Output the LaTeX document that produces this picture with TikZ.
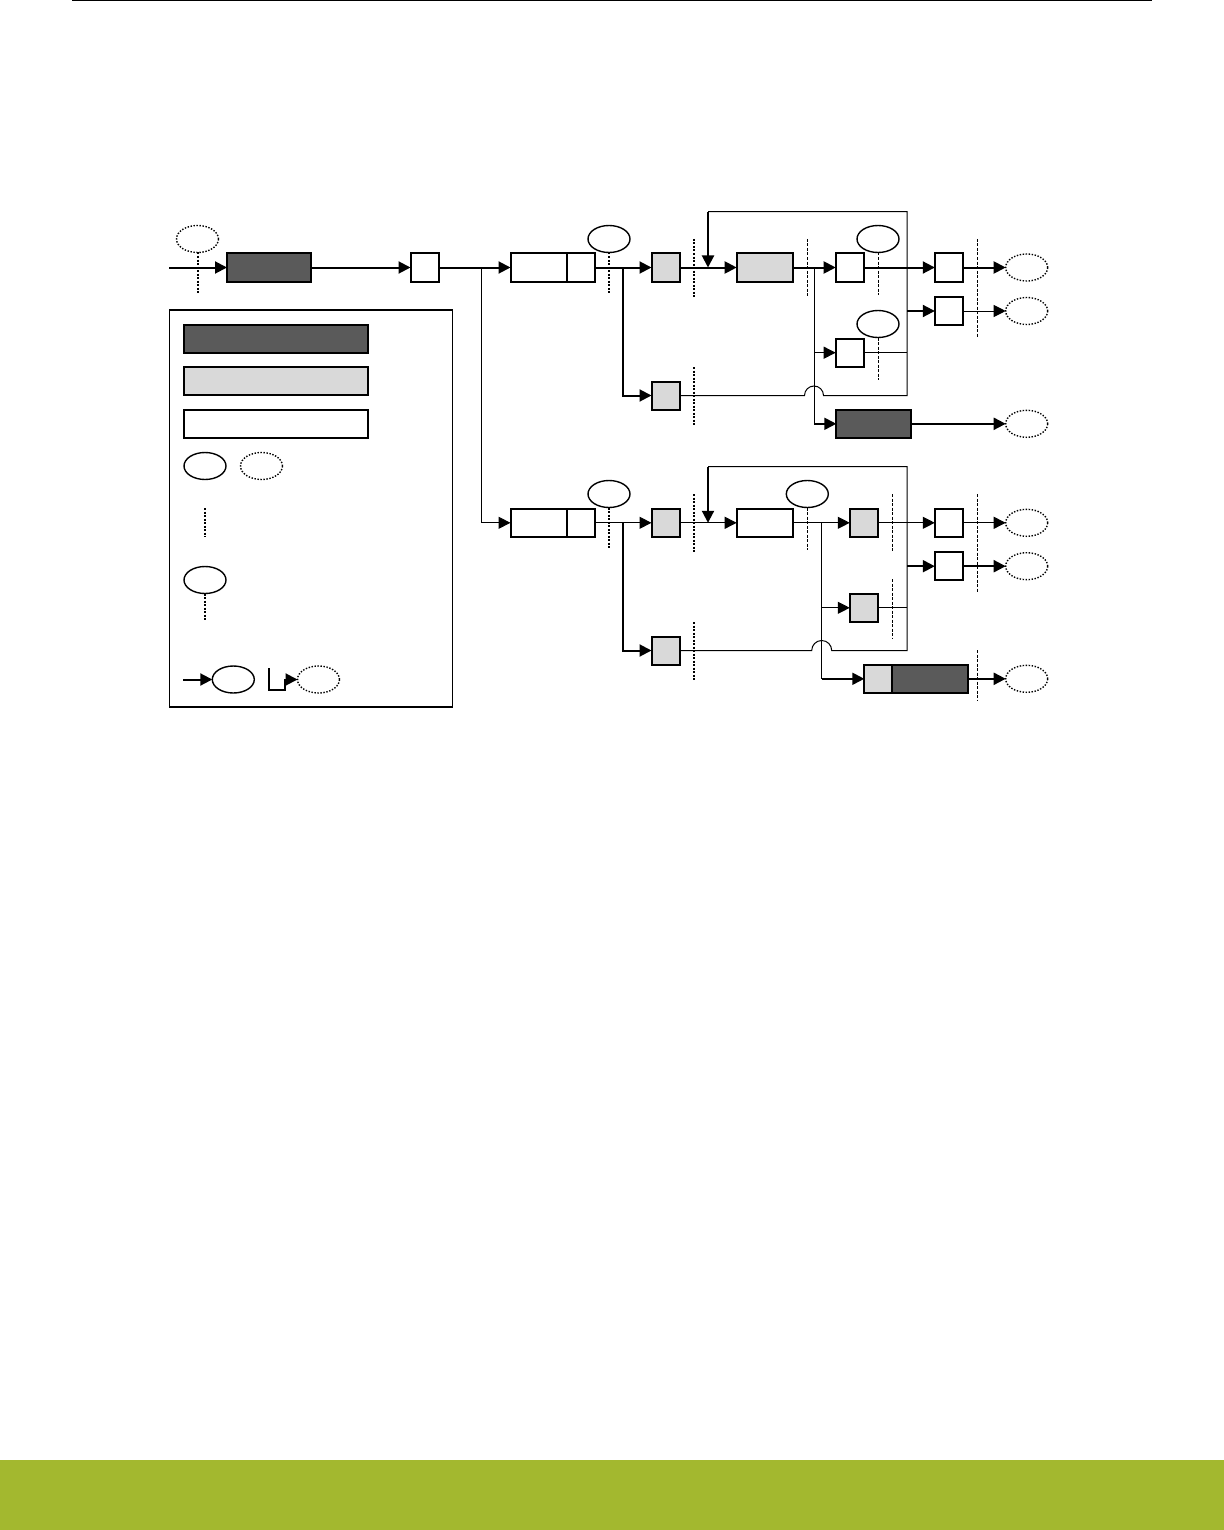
\documentclass[tikz,border=0pt]{standalone}
\usetikzlibrary{arrows.meta,shapes.geometric}
\definecolor{darkfill}{RGB}{90,90,90}
\definecolor{lightfill}{RGB}{217,217,217}
\definecolor{barcolor}{RGB}{163,184,47}
\begin{document}
\begin{tikzpicture}[x=0.5pt,y=-0.5pt,>={Triangle[length=6pt,width=6pt]},
  box/.style={draw,line width=1pt,minimum height=14pt,minimum width=14pt,inner sep=0pt,outer sep=0pt},
  darkbox/.style={box,fill=darkfill},
  lightbox/.style={box,fill=lightfill},
  whitebox/.style={box,fill=white},
  tag/.style={draw,ellipse,line width=0.7pt,minimum width=21pt,minimum height=13.5pt,inner sep=0pt,outer sep=0pt},
  ext/.style={tag,dash pattern=on 0.7pt off 0.8pt},
  probe/.style={line width=1pt,dash pattern=on 1pt off 0.75pt},
  cut/.style={line width=0.5pt,dash pattern=on 1.5pt off 0.75pt},
  flow/.style={->,line width=1pt},
  link/.style={->,line width=0.5pt},
  wire/.style={line width=0.5pt}]
  \useasboundingbox (0,0) rectangle (1224,1530);
  \draw[line width=0.75pt] (72,0.75) -- (1152,0.75);
  \fill[barcolor] (0,1460) rectangle (1224,1530);

  \node[ext] (extIn) at (197.5,239) {};
  \coordinate (in) at (169,267.5);
  \node[darkbox,minimum width=42pt] (src) at (269,267.5) {};
  \node[whitebox] (sw) at (424.5,267.5) {};
  \node[whitebox,minimum width=28pt] (splitAl) at (538.5,267.5) {};
  \node[whitebox] (splitAr) at (580.5,267.5) {};
  \node[tag] (tagA) at (609,239) {};
  \node[lightbox] (qA1) at (665.5,267.5) {};
  \node[lightbox] (qA2) at (665.5,395.5) {};
  \node[lightbox,minimum width=28pt] (procA) at (764.7,267.5) {};
  \node[whitebox] (outA1) at (849.7,267.5) {};
  \node[whitebox] (outA2) at (849.7,352.7) {};
  \node[tag] (tagA1) at (878,239) {};
  \node[tag] (tagA2) at (878,324) {};
  \node[darkbox,minimum width=37.5pt] (drop) at (873.8,423.8) {};
  \node[whitebox] (txA1) at (948.8,267.5) {};
  \node[whitebox] (txA2) at (948.8,311) {};
  \node[ext] (extA1) at (1026.7,267.5) {};
  \node[ext] (extA2) at (1026.7,311) {};
  \node[ext] (extA3) at (1026.7,423.8) {};

  \node[whitebox,minimum width=28pt] (splitBl) at (538.5,522.8) {};
  \node[whitebox] (splitBr) at (580.5,522.8) {};
  \node[tag] (tagB) at (609,494) {};
  \node[lightbox] (qB1) at (665.5,522.8) {};
  \node[lightbox] (qB2) at (665.5,650.5) {};
  \node[whitebox,minimum width=28pt] (procB) at (764.7,522.8) {};
  \node[tag] (tagB1) at (807.3,494) {};
  \node[lightbox] (outB1) at (863.8,522.8) {};
  \node[lightbox] (outB2) at (863.8,607.8) {};
  \node[lightbox] (comboL) at (878.3,678.8) {};
  \node[darkbox,minimum width=37.8pt,anchor=west] (comboR) at (comboL.east) {};
  \node[whitebox] (txB1) at (948.8,522.8) {};
  \node[whitebox] (txB2) at (948.8,566.2) {};
  \node[ext] (extB1) at (1026.7,522.8) {};
  \node[ext] (extB2) at (1026.7,566.2) {};
  \node[ext] (extB3) at (1026.7,678.8) {};

  \draw[probe] (extIn.south) -- ++(0,42);
  \draw[probe] (tagA.south) -- ++(0,42);
  \draw[probe] (694,239) -- (694,297);
  \draw[probe] (694,367) -- (694,425);
  \draw[cut] (807.3,239) -- (807.3,297);
  \draw[cut] (tagA1.south) -- ++(0,42);
  \draw[cut] (tagA2.south) -- ++(0,42);
  \draw[cut] (977.3,239) -- (977.3,337);
  \draw[probe] (tagB.south) -- ++(0,42);
  \draw[probe] (694,494) -- (694,552);
  \draw[probe] (694,622) -- (694,680);
  \draw[cut] (tagB1.south) -- ++(0,42);
  \draw[cut] (892.3,494) -- (892.3,552);
  \draw[cut] (892.3,579) -- (892.3,638);
  \draw[cut] (977.3,494) -- (977.3,592);
  \draw[cut] (977.3,650) -- (977.3,700);

  \draw[flow] (in) -- (src);
  \draw[flow] (src) -- (sw);
  \draw[flow] (sw) -- (splitAl);
  \coordinate (jMain) at (481,267.5);
  \draw[link] (jMain) |- (splitBl);
  \draw[flow] (splitAr) -- (qA1);
  \coordinate (jA1) at (622.7,267.5);
  \draw[flow] (jA1) |- (qA2);
  \draw[flow] (qA1) -- (procA);
  \draw[flow] (procA) -- (outA1);
  \coordinate (jA2) at (814,267.5);
  \draw[wire] (jA2) -- (jA2 |- drop);
  \draw[flow] (jA2 |- drop) -- (drop);
  \draw[link] (jA2 |- outA2) -- (outA2);
  \draw[flow] (outA1) -- (txA1);
  \draw[flow] (txA1) -- (extA1);
  \coordinate (hopA) at (804.5,395.5);
  \coordinate (cornA1) at (907,395.5);
  \coordinate (cornA2) at (907,211.7);
  \coordinate (retA) at (708,211.7);
  \coordinate (mergeA) at (708,267.5);
  \draw[wire] (qA2) -- (hopA) arc[start angle=180,end angle=0,radius=4.75pt] -- (cornA1) -- (cornA2) -- (retA);
  \draw[flow] (retA) -- (mergeA);
  \draw[flow] (cornA1 |- txA2) -- (txA2);
  \draw[link] (txA2) -- (extA2);
  \draw[wire] (outA2) -- (cornA1 |- outA2);
  \draw[flow] (drop) -- (extA3);

  \draw[link] (splitBr) -- (qB1);
  \coordinate (jB1) at (622.7,522.8);
  \draw[flow] (jB1) |- (qB2);
  \draw[link] (qB1) -- (procB);
  \draw[link] (procB) -- (outB1);
  \coordinate (jB2) at (821.7,522.8);
  \draw[wire] (jB2) -- (jB2 |- comboL);
  \draw[flow] (jB2 |- comboL) -- (comboL);
  \draw[link] (jB2 |- outB2) -- (outB2);
  \draw[link] (outB1) -- (txB1);
  \draw[link] (txB1) -- (extB1);
  \coordinate (hopB) at (811.7,650.5);
  \coordinate (cornB1) at (907,650.5);
  \coordinate (cornB2) at (907,466.7);
  \coordinate (retB) at (708,466.7);
  \coordinate (mergeB) at (708,522.8);
  \draw[wire] (qB2) -- (hopB) arc[start angle=180,end angle=0,radius=5pt] -- (cornB1) -- (cornB2) -- (retB);
  \draw[flow] (retB) -- (mergeB);
  \draw[flow] (cornB1 |- txB2) -- (txB2);
  \draw[flow] (txB2) -- (extB2);
  \draw[wire] (outB2) -- (cornB1 |- outB2);
  \draw[flow] (comboR) -- (extB3);

  \node[draw,line width=0.6pt,minimum width=141.5pt,minimum height=198.5pt,inner sep=0pt] (legend) at (311,508.5) {};
  \node[darkbox,minimum width=92pt] (keyDark) at (275.8,338.5) {};
  \node[lightbox,minimum width=92pt] (keyLight) at (275.8,381.3) {};
  \node[whitebox,minimum width=92pt] (keyWhite) at (275.8,423.5) {};
  \node[tag] (keyTag) at (205,466) {};
  \node[ext] (keyExt) at (261.5,466) {};
  \draw[probe] (205,508) -- (205,537);
  \node[tag] (keyTag2) at (205,580) {};
  \draw[probe] (keyTag2.south) -- ++(0,28);
  \coordinate (keyIn) at (183,679.5);
  \node[tag] (keyTag3) at (233.3,679.5) {};
  \draw[flow] (keyIn) -- (keyTag3);
  \node[ext] (keyExt2) at (318.5,679.5) {};
  \coordinate (keyBend) at (269,668);
  \draw[flow] (keyBend) |- (285,690) |- (keyExt2);
\end{tikzpicture}
\end{document}
